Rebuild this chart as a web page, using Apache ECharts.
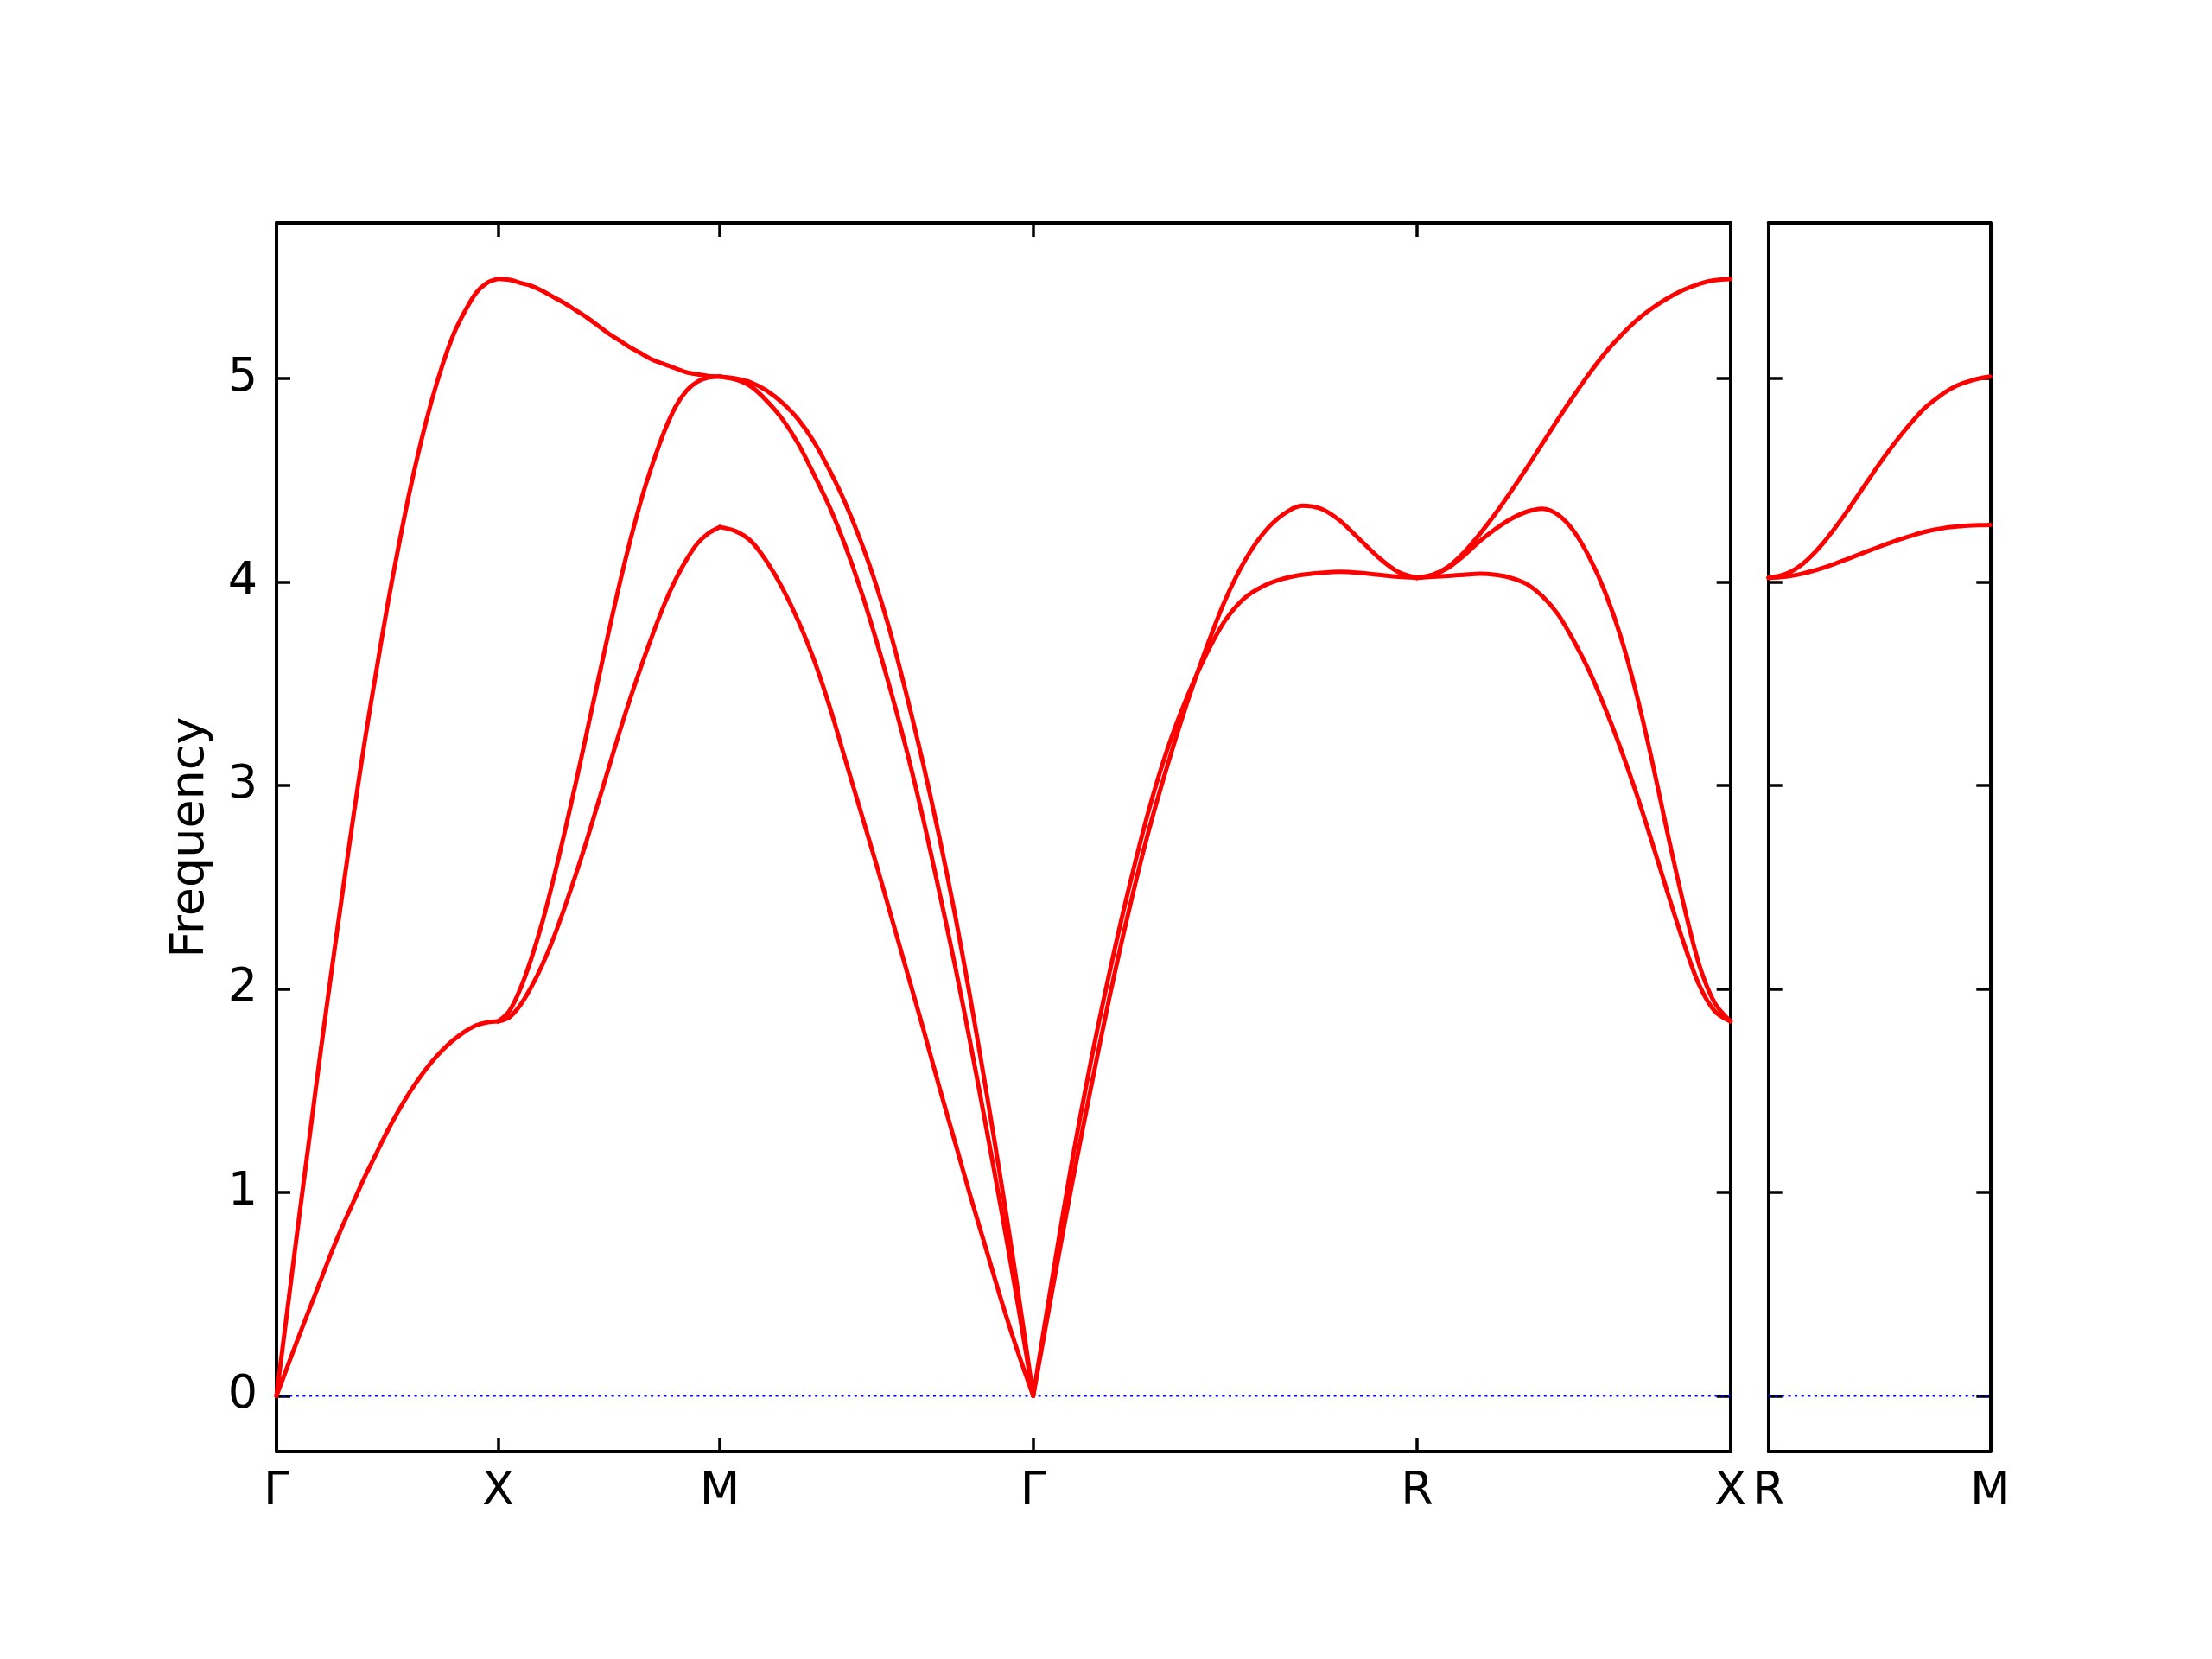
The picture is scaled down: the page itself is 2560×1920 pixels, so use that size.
<!DOCTYPE html>
<html><head><meta charset="utf-8">
<script src="https://cdn.jsdelivr.net/npm/echarts@6/dist/echarts.min.js"></script>
<style>html,body{margin:0;padding:0;background:#fff}#c{width:2560px;height:1920px}</style>
</head><body><div id="c"></div><script>
// k-path: high-symmetry positions (cumulative path length) and labels
const pathTicks = [0, 0.5, 1.0, 1.7071, 2.5731, 3.2802];
const pathLabels = ['Γ', 'X', 'M', 'Γ', 'R', 'X'];
const sideTicks = [0, 0.5];
const sideLabels = ['R', 'M'];
const yTicks = [0, 1, 2, 3, 4, 5];
const yLabels = ['0', '1', '2', '3', '4', '5'];
// fractional positions of the read samples along each segment (every 5 %)
const frac = [0, 0.05, 0.1, 0.15, 0.2, 0.25, 0.3, 0.35, 0.4, 0.45, 0.5,
              0.55, 0.6, 0.65, 0.7, 0.75, 0.8, 0.85, 0.9, 0.95, 1.0];

// Γ–X
const gxTop = [0, 0.43, 0.86, 1.28, 1.70, 2.10, 2.49, 2.87, 3.23, 3.56, 3.88,
               4.17, 4.44, 4.68, 4.89, 5.07, 5.22, 5.33, 5.42, 5.47, 5.49];
const gxLow = [0, 0.145, 0.29, 0.43, 0.57, 0.71, 0.84, 0.96, 1.08, 1.19, 1.30,
               1.40, 1.49, 1.57, 1.64, 1.70, 1.75, 1.79, 1.82, 1.835, 1.84];
// X–M
const xmTop = [5.49, 5.485, 5.47, 5.455, 5.43, 5.40, 5.37, 5.335, 5.30, 5.26, 5.22,
               5.185, 5.15, 5.12, 5.09, 5.07, 5.05, 5.03, 5.02, 5.012, 5.01];
const xmMid = [1.84, 1.89, 2.00, 2.15, 2.33, 2.54, 2.77, 3.01, 3.26, 3.51, 3.76,
               4.00, 4.22, 4.42, 4.59, 4.74, 4.86, 4.94, 4.985, 5.005, 5.01];
const xmLow = [1.84, 1.86, 1.92, 2.01, 2.12, 2.25, 2.40, 2.56, 2.73, 2.91, 3.09,
               3.27, 3.44, 3.60, 3.75, 3.89, 4.01, 4.11, 4.19, 4.24, 4.27];
// M–Γ
const mgTop = [5.01, 5.00, 4.98, 4.94, 4.88, 4.80, 4.69, 4.55, 4.39, 4.20, 3.98,
               3.72, 3.42, 3.10, 2.75, 2.37, 1.95, 1.50, 1.03, 0.53, 0];
const mgMid = [5.01, 4.995, 4.96, 4.89, 4.80, 4.68, 4.53, 4.37, 4.18, 3.96, 3.71,
               3.44, 3.15, 2.83, 2.48, 2.12, 1.73, 1.32, 0.90, 0.46, 0];
const mgLow = [4.27, 4.25, 4.20, 4.10, 3.97, 3.81, 3.62, 3.39, 3.13, 2.87, 2.61,
               2.34, 2.07, 1.80, 1.52, 1.25, 0.98, 0.72, 0.46, 0.22, 0];
// Γ–R
const grFlat = [0, 0.58, 1.14, 1.64, 2.09, 2.50, 2.87, 3.18, 3.43, 3.64, 3.81,
                3.92, 3.98, 4.015, 4.035, 4.045, 4.05, 4.045, 4.035, 4.025, 4.02];
const grPeak = [0, 0.52, 1.03, 1.51, 1.97, 2.39, 2.77, 3.10, 3.40, 3.67, 3.91,
                4.10, 4.24, 4.33, 4.375, 4.36, 4.30, 4.21, 4.12, 4.05, 4.02];
// R–X
const rxTop = [4.02, 4.035, 4.075, 4.145, 4.235, 4.335, 4.445, 4.56, 4.68, 4.80, 4.915,
               5.025, 5.125, 5.21, 5.285, 5.345, 5.395, 5.435, 5.465, 5.483, 5.49];
const rxMid = [4.02, 4.035, 4.07, 4.13, 4.20, 4.26, 4.31, 4.345, 4.36, 4.33, 4.25,
               4.12, 3.95, 3.73, 3.45, 3.12, 2.76, 2.42, 2.12, 1.93, 1.84];
const rxLow = [4.02, 4.025, 4.03, 4.035, 4.04, 4.035, 4.02, 3.99, 3.93, 3.84, 3.71,
               3.56, 3.38, 3.18, 2.96, 2.72, 2.47, 2.23, 2.02, 1.89, 1.84];
// R–M (second panel)
const rmTop = [4.02, 4.03, 4.05, 4.085, 4.135, 4.195, 4.265, 4.34, 4.42, 4.50, 4.58,
               4.655, 4.725, 4.79, 4.85, 4.895, 4.935, 4.965, 4.985, 5.00, 5.01];
const rmLow = [4.02, 4.023, 4.03, 4.04, 4.054, 4.071, 4.09, 4.11, 4.131, 4.152, 4.173,
               4.193, 4.212, 4.229, 4.245, 4.257, 4.267, 4.273, 4.277, 4.279, 4.28];

const yMin = -0.2745, yMax = 5.7645;

const mainSegments = [
  [0, [gxTop, gxLow]],
  [1, [xmTop, xmMid, xmLow]],
  [2, [mgTop, mgMid, mgLow]],
  [3, [grFlat, grPeak]],
  [4, [rxTop, rxMid, rxLow]]
];

const RED = '#ff0000';
function bandSeries(start, end, vals, xi, yi) {
  return {
    type: 'line', xAxisIndex: xi, yAxisIndex: yi, smooth: 0.3, showSymbol: false,
    silent: true, z: 3, clip: false,
    lineStyle: {color: RED, width: 5, join: 'round', cap: 'round'},
    data: frac.map((f, k) => [start + f * (end - start), vals[k]])
  };
}
const series = [];
series.push({type: 'line', xAxisIndex: 0, yAxisIndex: 0, showSymbol: false, silent: true, z: 2,
  lineStyle: {color: '#0000ff', width: 2.5, type: [3, 4.6]},
  data: [[pathTicks[0], 0], [pathTicks[pathTicks.length - 1], 0]]});
series.push({type: 'line', xAxisIndex: 2, yAxisIndex: 2, showSymbol: false, silent: true, z: 2,
  lineStyle: {color: '#0000ff', width: 2.5, type: [3, 4.6]},
  data: [[sideTicks[0], 0], [sideTicks[1], 0]]});
mainSegments.forEach(([i, bands]) => {
  bands.forEach(b => series.push(bandSeries(pathTicks[i], pathTicks[i + 1], b, 0, 0)));
});
[rmTop, rmLow].forEach(b => series.push(bandSeries(sideTicks[0], sideTicks[1], b, 2, 2)));

const FONT = 'DejaVu Sans';
const axLine = {show: true, onZero: false, lineStyle: {color: '#000', width: 4}};
function lookup(ticks, labels) {
  return v => { for (let i = 0; i < ticks.length; i++) if (Math.abs(v - ticks[i]) < 1e-6) return labels[i]; return ''; };
}
function xAx(grid, ticks, labels, pos) {
  const bottom = pos === 'bottom';
  return {
    type: 'value', gridIndex: grid, position: pos, min: ticks[0], max: ticks[ticks.length - 1],
    axisLine: axLine, splitLine: {show: false},
    axisTick: {show: true, inside: true, length: 16, customValues: ticks, lineStyle: {color: '#000', width: 3.5}},
    axisLabel: {show: bottom, customValues: ticks, formatter: lookup(ticks, labels), margin: 20,
      fontFamily: FONT, fontSize: 54, color: '#000', showMinLabel: true, showMaxLabel: true}
  };
}
function yAx(grid, pos, labelsOn, name) {
  const o = {
    type: 'value', gridIndex: grid, position: pos, min: yMin, max: yMax,
    axisLine: axLine, splitLine: {show: false},
    axisTick: {show: true, inside: true, length: 16, customValues: yTicks, lineStyle: {color: '#000', width: 3.5}},
    axisLabel: {show: labelsOn, customValues: yTicks, formatter: lookup(yTicks, yLabels), margin: 22,
      fontFamily: FONT, fontSize: 54, color: '#000'}
  };
  if (name) {
    o.name = name; o.nameLocation = 'middle'; o.nameGap = 72;
    o.nameTextStyle = {fontFamily: FONT, fontSize: 54, color: '#000'};
  }
  return o;
}

const chart = echarts.init(document.getElementById('c'), null, {renderer: 'canvas'});
chart.setOption({
  animation: false,
  backgroundColor: '#ffffff',
  grid: [
    {left: 320, top: 258, width: 1682.7, height: 1422},
    {left: 2046.7, top: 258, width: 256.6, height: 1422}
  ],
  xAxis: [
    xAx(0, pathTicks, pathLabels, 'bottom'),
    xAx(0, pathTicks, pathLabels, 'top'),
    xAx(1, sideTicks, sideLabels, 'bottom'),
    xAx(1, sideTicks, sideLabels, 'top')
  ],
  yAxis: [
    yAx(0, 'left', true, 'Frequency'),
    yAx(0, 'right', false),
    yAx(1, 'left', false),
    yAx(1, 'right', false)
  ],
  series: series
});
</script></body></html>
